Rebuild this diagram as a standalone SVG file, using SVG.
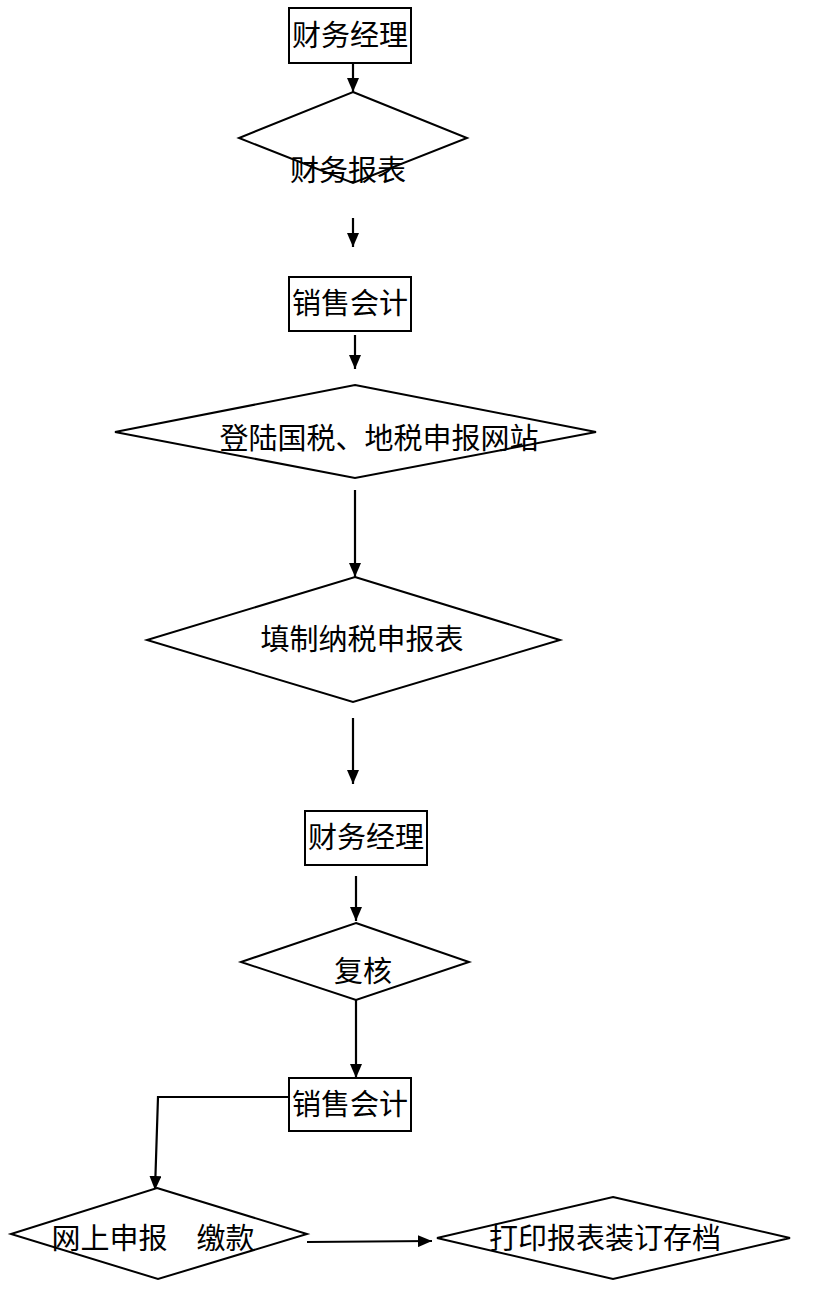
<svg xmlns="http://www.w3.org/2000/svg" width="832" height="1302" viewBox="0 0 832 1302">
<style>
.n{fill:#fff;stroke:#000;stroke-width:2}
.t{font-family:"Noto Sans CJK SC","Noto Sans",sans-serif;font-size:29px;fill:#000;text-anchor:middle}
.c{fill:none;stroke:#000;stroke-width:2.2}
</style>
<defs>
<marker id="a" viewBox="0 0 14 12" refX="14" refY="6" markerWidth="14" markerHeight="12" markerUnits="userSpaceOnUse" orient="auto">
<path d="M0,0 L14,6 L0,12 Z" fill="#000"/>
</marker>
</defs>
<rect width="832" height="1302" fill="#fff"/>
<g id="connectors">
<line class="c" x1="353" y1="63" x2="353" y2="92" marker-end="url(#a)"/>
<line class="c" x1="353" y1="218" x2="353" y2="247" marker-end="url(#a)"/>
<line class="c" x1="355" y1="335" x2="355" y2="369" marker-end="url(#a)"/>
<line class="c" x1="355" y1="490" x2="355" y2="577" marker-end="url(#a)"/>
<line class="c" x1="353" y1="718" x2="353" y2="784" marker-end="url(#a)"/>
<line class="c" x1="356" y1="876" x2="356" y2="921" marker-end="url(#a)"/>
<line class="c" x1="356" y1="1000" x2="356" y2="1078" marker-end="url(#a)"/>
<polyline class="c" points="289,1097 158,1097 155,1190" marker-end="url(#a)"/>
<line class="c" x1="307" y1="1242" x2="432" y2="1241" marker-end="url(#a)"/>
</g>
<g id="n1"><rect class="n" x="289" y="8" width="122" height="55"/><text class="t" x="350" y="46">财务经理</text></g>
<g id="n2"><polygon class="n" points="353,92 467,138 353,183 239,138"/><text class="t" x="348" y="181">财务报表</text></g>
<g id="n3"><rect class="n" x="289" y="277" width="122" height="54"/><text class="t" x="350" y="314">销售会计</text></g>
<g id="n4"><polygon class="n" points="355,385 596,432 355,478 115,432"/><text class="t" x="379" y="449">登陆国税、地税申报网站</text></g>
<g id="n5"><polygon class="n" points="355,577 560,640 353,702 147,640"/><text class="t" x="362" y="650">填制纳税申报表</text></g>
<g id="n6"><rect class="n" x="305" y="811" width="122" height="54"/><text class="t" x="366" y="848">财务经理</text></g>
<g id="n7"><polygon class="n" points="356,923 469,962 356,1000 241,962"/><text class="t" x="363" y="982">复核</text></g>
<g id="n8"><rect class="n" x="289" y="1078" width="122" height="53"/><text class="t" x="350" y="1115">销售会计</text></g>
<g id="n9"><polygon class="n" points="157,1188 307,1234 158,1279 11,1234"/><text class="t" x="153" y="1249">网上申报　缴款</text></g>
<g id="n10"><polygon class="n" points="613,1197 790,1238 613,1279 437,1238"/><text class="t" x="605" y="1249">打印报表装订存档</text></g>
</svg>
